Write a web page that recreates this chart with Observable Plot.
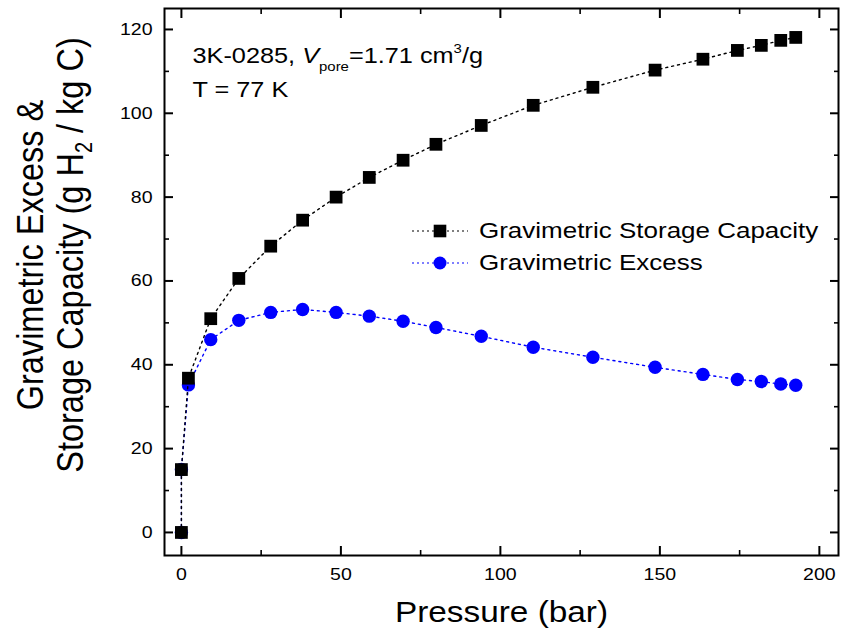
<!DOCTYPE html>
<html><head><meta charset="utf-8">
<script src="https://cdn.jsdelivr.net/npm/d3@7"></script>
<script src="https://cdn.jsdelivr.net/npm/@observablehq/plot@0.6"></script>
<style>
body{margin:0;background:#fff;}
#wrap{position:relative;width:844px;height:635px;}
</style></head><body><div id="wrap"></div>
<script>
// ---- data ----
const pressure = [0, 0, 2.2, 9.2, 18, 28, 38, 48.5, 58.9, 69.5, 79.8, 94, 110.3, 129, 148.5, 163.5, 174.3, 181.8, 187.9, 192.6];
const storageCapacity = [0, 15, 36.8, 51, 60.6, 68.3, 74.5, 80, 84.7, 88.8, 92.6, 97.1, 101.9, 106.2, 110.3, 112.9, 115, 116.2, 117.4, 118.1];
const excess = [0, 15, 35.2, 46, 50.6, 52.5, 53.2, 52.5, 51.6, 50.4, 48.9, 46.8, 44.2, 41.8, 39.4, 37.7, 36.5, 36.0, 35.4, 35.1];
const xMajorTicks = [0, 50, 100, 150, 200];
const xMinorTicks = [25, 75, 125, 175];
const yMajorTicks = [0, 20, 40, 60, 80, 100, 120];
const yMinorTicks = [10, 30, 50, 70, 90, 110];
const seriesNames = ["Gravimetric Storage Capacity", "Gravimetric Excess"];
const xTitle = "Pressure (bar)";
const yTitle = ["Gravimetric Excess &", "Storage Capacity (g H2 / kg C)"];
const annotation = ["3K-0285, Vpore=1.71 cm3/g", "T = 77 K"];

const FONT = '"Liberation Sans", Arial, Helvetica, sans-serif';
const BLUE = "#0000ff";
const storageData = pressure.map((p, i) => ({p, v: storageCapacity[i]}));
const excessData = pressure.map((p, i) => ({p, v: excess[i]}));
const blank = () => "";

const chart = Plot.plot({
  width: 844, height: 635,
  marginLeft: 164, marginRight: 6, marginTop: 8, marginBottom: 80,
  style: {fontFamily: FONT, background: "#fff", color: "#000", overflow: "visible"},
  x: {domain: [-5.3, 206]},
  y: {domain: [-5.5, 125]},
  marks: [
    Plot.line(excessData, {x: "p", y: "v", stroke: BLUE, strokeWidth: 1.4, strokeDasharray: "2,4"}),
    Plot.dot(excessData, {x: "p", y: "v", r: 6.7, fill: BLUE, symbol: "circle"}),
    Plot.line(storageData, {x: "p", y: "v", stroke: "#000", strokeWidth: 1.4, strokeDasharray: "2,4"}),
    Plot.dot(storageData, {x: "p", y: "v", r: 7.2, fill: "#000", symbol: "square"}),
    Plot.frame({stroke: "#000", strokeWidth: 2}),
    Plot.axisX({anchor: "bottom", ticks: xMajorTicks, tickSize: -9, tickPadding: 21, strokeWidth: 2, fontSize: 17, tickFormat: d => String(d), label: null}),
    Plot.axisX({anchor: "bottom", ticks: xMinorTicks, tickSize: -5, strokeWidth: 1.6, tickFormat: blank, label: null}),
    Plot.axisX({anchor: "top", ticks: xMajorTicks, tickSize: -9, strokeWidth: 2, tickFormat: blank, label: null}),
    Plot.axisX({anchor: "top", ticks: xMinorTicks, tickSize: -5, strokeWidth: 1.6, tickFormat: blank, label: null}),
    Plot.axisY({anchor: "left", ticks: yMajorTicks, tickSize: -9, tickPadding: 21, strokeWidth: 2, fontSize: 17, tickFormat: d => String(d), label: null}),
    Plot.axisY({anchor: "left", ticks: yMinorTicks, tickSize: -5, strokeWidth: 1.6, tickFormat: blank, label: null}),
    Plot.axisY({anchor: "right", ticks: yMajorTicks, tickSize: -9, strokeWidth: 2, tickFormat: blank, label: null}),
    Plot.axisY({anchor: "right", ticks: yMinorTicks, tickSize: -5, strokeWidth: 1.6, tickFormat: blank, label: null}),
    // axis titles
    Plot.text([xTitle], {frameAnchor: "bottom", text: d => d, fontSize: 29, textAnchor: "middle", lineAnchor: "bottom", dy: 66, fill: "#000"}),
    Plot.text([yTitle[0]], {frameAnchor: "left", text: d => d, fontSize: 32.5, rotate: -90, textAnchor: "middle", lineAnchor: "bottom", dx: -122, dy: -27, fill: "#000"}),
    Plot.text([yTitle[1]], {frameAnchor: "left", text: d => d, fontSize: 32.5, rotate: -90, textAnchor: "middle", lineAnchor: "bottom", dx: -82, dy: -27, fill: "#000"}),
    // annotation
    Plot.text([annotation[0]], {frameAnchor: "top-left", text: d => d, fontSize: 22, textAnchor: "start", lineAnchor: "bottom", dx: 28, dy: 54, fill: "#000"}),
    Plot.text([annotation[1]], {frameAnchor: "top-left", text: d => d, fontSize: 22, textAnchor: "start", lineAnchor: "bottom", dx: 28, dy: 88, fill: "#000"})
  ]
});

document.getElementById("wrap").appendChild(chart);
const svg = chart.tagName.toLowerCase() === "svg" ? chart : chart.querySelector("svg");

// rich text (sub/superscripts)
function rich(match, parts) {
  svg.querySelectorAll("text").forEach(t => {
    if (t.textContent !== match) return;
    while (t.firstChild) t.removeChild(t.firstChild);
    for (const p of parts) {
      const ts = document.createElementNS("http://www.w3.org/2000/svg", "tspan");
      ts.textContent = p.t;
      if (p.size) ts.setAttribute("font-size", p.size);
      if (p.dy) ts.setAttribute("dy", p.dy);
      if (p.italic) ts.setAttribute("font-style", "italic");
      t.appendChild(ts);
    }
  });
}
rich(annotation[0], [
  {t: "3K-0285, "}, {t: "V", italic: true}, {t: "pore", size: 13, dy: 8},
  {t: "=1.71 cm", dy: -8}, {t: "3", size: 13, dy: -10}, {t: "/g", dy: 10}
]);
rich(yTitle[1], [
  {t: "Storage Capacity (g H"}, {t: "2", size: 20, dy: 8}, {t: " / kg C)", dy: -8}
]);

// legend (drawn into the same svg)
const lg = d3.select(svg).append("g").attr("font-family", FONT).attr("text-anchor", "start");
const legendRows = [
  {name: seriesNames[0], color: "#000", shape: "square", y: 231},
  {name: seriesNames[1], color: BLUE, shape: "circle", y: 263}
];
for (const row of legendRows) {
  lg.append("line").attr("x1", 412).attr("x2", 468).attr("y1", row.y).attr("y2", row.y)
    .attr("stroke", row.color).attr("stroke-width", 1.2).attr("stroke-dasharray", "2,3");
  if (row.shape === "square") lg.append("rect").attr("x", 440 - 6.3).attr("y", row.y - 6.3).attr("width", 12.6).attr("height", 12.6).attr("fill", row.color);
  else lg.append("circle").attr("cx", 440).attr("cy", row.y).attr("r", 6.5).attr("fill", row.color);
  lg.append("text").attr("transform", `translate(479,${row.y + 7})`).attr("font-size", 22.6).attr("fill", "#000").text(row.name);
}

// the reference glyphs are horizontally widened; widen text the same way
const S = 1.15;
svg.querySelectorAll("text").forEach(t => {
  if (t.textContent === "") return;
  const tr = t.getAttribute("transform") || "";
  t.setAttribute("transform", (tr + (/rotate/.test(tr) ? ` scale(1,${S})` : ` scale(${S},1)`)).trim());
});
</script></body></html>
